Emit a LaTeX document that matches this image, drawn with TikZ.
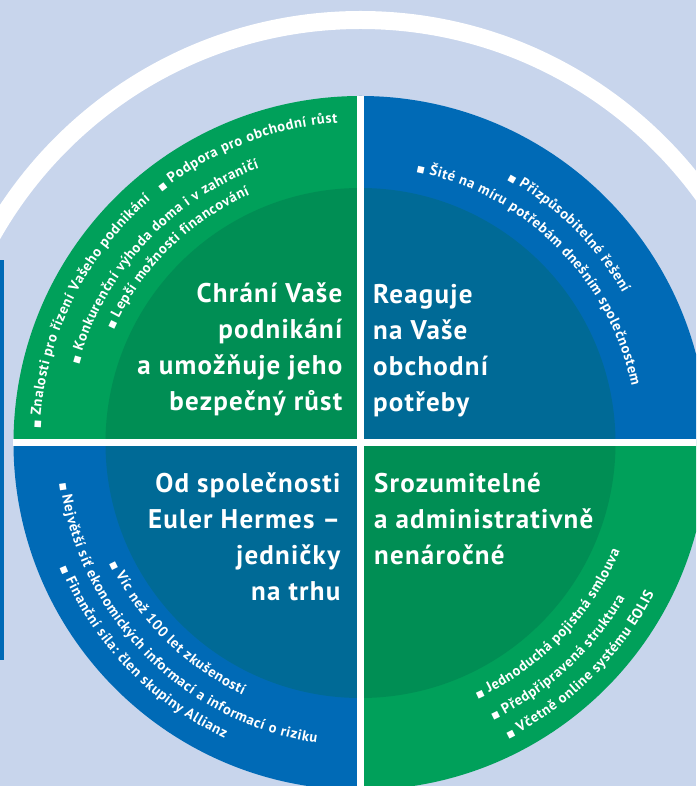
\documentclass[tikz,border=0pt]{standalone}
\usepackage{fontspec}
\setmainfont{PT Sans}
\newfontfamily\sqfont{DejaVu Sans}
\usepackage{xcolor}
\usepackage{tikz}
\usetikzlibrary{decorations.text}
\definecolor{bg}{RGB}{200,213,236}
\definecolor{grout}{RGB}{0,160,90}
\definecolor{grin}{RGB}{0,142,84}
\definecolor{blout}{RGB}{0,106,182}
\definecolor{blin}{RGB}{0,106,150}
\newcommand{\bsq}{\sqfont\fontsize{8.5}{8.5}\selectfont\kern0.6pt}
\newcommand{\btx}{\bfseries\fontsize{14.5}{14.5}\selectfont\kern0.6pt}

\begin{document}
\begin{tikzpicture}[x=1pt,y=1pt,
    title/.style={text=white,inner sep=0pt,font=\bfseries\fontsize{27}{36}\selectfont\addfontfeature{LetterSpace=4.5}},
    bullets/.style={decorate,decoration={text along path,text color=white,text={#1}}}]
                \useasboundingbox (-360.5,-343) rectangle (335.5,443);
                \clip (-360.5,-343) rectangle (335.5,443);
                \fill[bg] (-360.5,-343) rectangle (335.5,443);
                \draw[white,line width=18pt] (180:423) arc (180:0:423);
                \fill[blout] (-362,183) rectangle (-356.5,-217);

                \fill[grout] (0,0) -- (180:347) arc (180:90:347) -- cycle;
                \fill[blout] (0,0) -- (90:347) arc (90:0:347) -- cycle;
                \fill[blout] (0,0) -- (180:347) arc (180:270:347) -- cycle;
                \fill[grout] (0,0) -- (270:347) arc (270:360:347) -- cycle;
                \fill[grin] (0,0) -- (180:255) arc (180:90:255) -- cycle;
                \fill[blin] (0,0) -- (90:255) arc (90:0:255) -- cycle;
                \fill[blin] (0,0) -- (180:255) arc (180:270:255) -- cycle;
                \fill[grin] (0,0) -- (270:255) arc (270:360:255) -- cycle;
                \draw[white,line width=7pt] (-347,0) -- (347,0);
                \draw[white,line width=7pt] (0,-347) -- (0,347);

                \path[bullets={|\bsq|■|\btx| Znalosti pro řízení Vašeho podnikání}] (177.5:321) arc (177.5:120:321);
                \path[bullets={|\bsq|■|\btx| Podpora pro obchodní růst}] (128.5:321) arc (128.5:80:321);
                \path[bullets={|\bsq|■|\btx| Konkurenční výhoda doma i v zahraničí}] (164.5:293) arc (164.5:95:293);
                \path[bullets={|\bsq|■|\btx| Lepší možnosti financování}] (155.5:272) arc (155.5:100:272);
                \path[bullets={|\bsq|■|\btx| Přizpůsobitelné řešení}] (61:302) arc (61:15:302);
                \path[bullets={|\bsq|■|\btx| Šité na míru potřebám dnešním společnostem}] (78.5:277) arc (78.5:0:277);
                \path[bullets={|\bsq|■|\btx| Víc než 100 let zkušeností}] (205.5:278) arc (205.5:260:278);
                \path[bullets={|\bsq|■|\btx| Největší síť ekonomických informací a informací o riziku}] (187.5:303) arc (187.5:275:303);
                \path[bullets={|\bsq|■|\btx| Finanční síla: člen skupiny Allianz}] (202.5:325) arc (202.5:260:325);
                \path[bullets={|\bsq|■|\btx| Jednoduchá pojistná smlouva}] (294.5:281) arc (294.5:350:281);
                \path[bullets={|\bsq|■|\btx| Předpřipravená struktura}] (295.5:307) arc (295.5:345:307);
                \path[bullets={|\bsq|■|\btx| Včetně online systému EOLIS}] (296.5:330) arc (296.5:345:330);

                \node[title,align=right,anchor=north east] (protect) at (-18,160) {Chrání Vaše\\podnikání\\a umožňuje jeho\\bezpečný růst};
                \node[title,align=left,anchor=north west] (react) at (12.5,159) {Reaguje\\na Vaše\\obchodní\\potřeby};
                \node[title,align=right,anchor=north east] (leader) at (-20,-29.5) {Od společnosti\\Euler Hermes –\\jedničky\\na trhu};
                \node[title,align=left,anchor=north west] (simple) at (13.5,-29.5) {Srozumitelné\\a administrativně\\nenáročné};
            \end{tikzpicture}
\end{document}
